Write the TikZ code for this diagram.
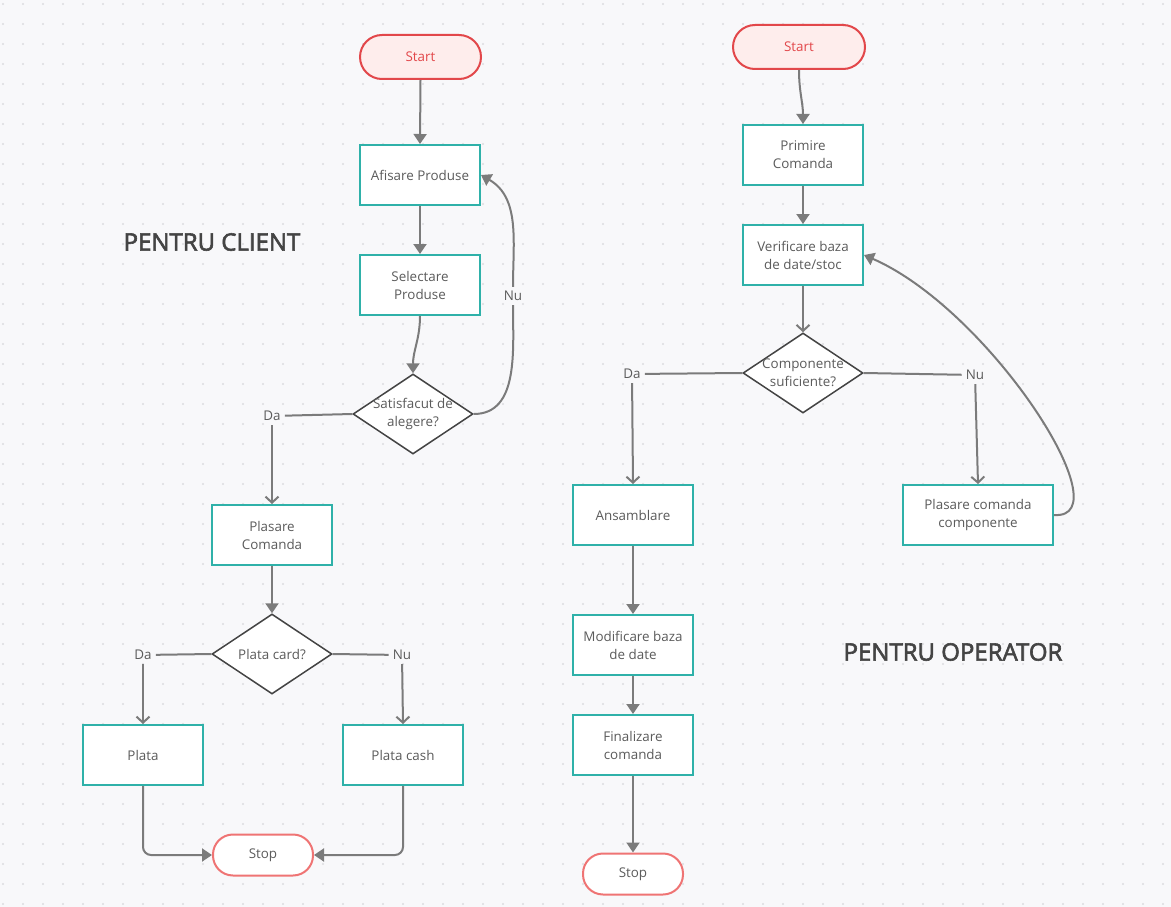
\documentclass[tikz,border=0pt]{standalone}
\usepackage{fontspec}
\setmainfont{Open Sans}
\newfontface\titlefont[FakeBold=2.5]{Open Sans}
\usetikzlibrary{shapes.geometric,arrows.meta}

\definecolor{bgc}{HTML}{F8F8FA}
\definecolor{dotc}{HTML}{DCDCE0}
\definecolor{tealc}{HTML}{2FB1A9}
\definecolor{startc}{HTML}{E2474A}
\definecolor{startf}{HTML}{FEEDEC}
\definecolor{stopc}{HTML}{EF7474}
\definecolor{linec}{HTML}{7B7B7B}
\definecolor{txtc}{HTML}{5B5B5B}
\definecolor{diac}{HTML}{444444}

\begin{document}
\begin{tikzpicture}[x=1pt,y=-1pt,
	font=\fontsize{13.4}{18}\selectfont, text=txtc,
	process/.style={draw=tealc, line width=2pt, fill=white, minimum width=120pt, minimum height=60pt, align=center},
	decision/.style={draw=diac, line width=1.5pt, fill=white, diamond, minimum width=120pt, minimum height=80pt, inner sep=0pt},
	terminal/.style={draw=startc, line width=2pt, fill=startf, text=startc, rounded corners=22pt, minimum height=44pt},
	stopnode/.style={draw=stopc, line width=2pt, fill=white, rounded corners=20pt, minimum width=100pt, minimum height=41pt},
	branch/.style={inner sep=4pt},
	flow/.style={draw=linec, line width=2pt, -{Triangle[length=10pt,width=13pt]}},
	choice/.style={draw=linec, line width=2pt, -{Straight Barb[length=6pt,width=13pt]}},
	plain/.style={draw=linec, line width=2pt},
	title/.style={text=diac, font=\titlefont\fontsize{24}{28}\selectfont}]

	%background
	\useasboundingbox[fill=bgc] (0,0) rectangle (1171,907);
	\foreach \x in {3,23,...,1163}
		\foreach \y in {4,24,...,904}
			\fill[dotc] (\x,\y) circle (1.2);

	%client nodes
	\node[terminal, minimum width=121pt] (cstart) at (420.5,57){Start};
	\node[process] (afis) at (420,175){Afisare Produse};
	\node[process] (sel) at (420,285){Selectare\\Produse};
	\node[decision, label={[align=center]center:{Satisfacut de\\alegere?}}] (sat) at (413,414){};
	\node[branch] (da1) at (272,416){Da};
	\node[branch] (nu1) at (513,296){Nu};
	\node[process] (plas) at (272,535){Plasare\\Comanda};
	\node[decision, label={center:{Plata card?}}] (card) at (272,654){};
	\node[branch] (da2) at (143,655){Da};
	\node[branch] (nu2) at (402,655){Nu};
	\node[process] (plata) at (143,755){Plata};
	\node[process] (cash) at (403,755){Plata cash};
	\node[stopnode] (cstop) at (263,855){Stop};
	\node[title] (tclient) at (212,242){PENTRU CLIENT};

	%operator nodes
	\node[terminal, minimum width=132pt] (ostart) at (799,47){Start};
	\node[process] (prim) at (803,155){Primire\\Comanda};
	\node[process] (verif) at (803,255){Verificare baza\\de date/stoc};
	\node[decision, label={[align=center]center:{Componente\\suficiente?}}] (comp) at (803,373){};
	\node[branch] (da3) at (632,374){Da};
	\node[branch] (nu3) at (975,375){Nu};
	\node[process] (ans) at (633,515){Ansamblare};
	\node[process] (plc) at (978,515)[minimum width=150pt]{Plasare comanda\\componente};
	\node[process] (mod) at (633,645){Modificare baza\\de date};
	\node[process] (fin) at (633,745){Finalizare\\comanda};
	\node[stopnode] (ostop) at (633,874){Stop};
	\node[title] (toper) at (953,652){PENTRU OPERATOR};

	%client connectors
	\draw[flow] (cstart.south) -- (afis.north);
	\draw[flow] (afis.south) -- (sel.north);
	\draw[flow] (sel.south) to[out=-90,in=90] (sat.north);
	\draw[plain] (sat.west) -- (da1);
	\draw[choice] (da1) -- (plas.north);
	\draw[plain] (sat.east) to[out=0,in=-90] (nu1);
	\draw[flow] (nu1) to[out=90,in=-30] (afis.east);
	\draw[flow] (plas.south) -- (card.north);
	\draw[plain] (card.west) -- (da2);
	\draw[choice] (da2) -- (plata.north);
	\draw[plain] (card.east) -- (nu2);
	\draw[choice] (nu2) -- (cash.north);
	\draw[flow, rounded corners=8pt] (plata.south) |- (cstop.west);
	\draw[flow, rounded corners=8pt] (cash.south) |- (cstop.east);

	%operator connectors
	\draw[flow] (ostart.south) to[out=-90,in=90] (prim.north);
	\draw[flow] (prim.south) -- (verif.north);
	\draw[choice] (verif.south) -- (comp.north);
	\draw[plain] (comp.west) -- (da3);
	\draw[choice] (da3) -- (ans.north);
	\draw[plain] (comp.east) -- (nu3);
	\draw[choice] (nu3) -- (plc.north);
	\draw[flow] (plc.east) .. controls (1125,520) and (990,310) .. (verif.east);
	\draw[flow] (ans.south) -- (mod.north);
	\draw[flow] (mod.south) -- (fin.north);
	\draw[flow] (fin.south) -- (ostop.north);

\end{tikzpicture}
\end{document}
